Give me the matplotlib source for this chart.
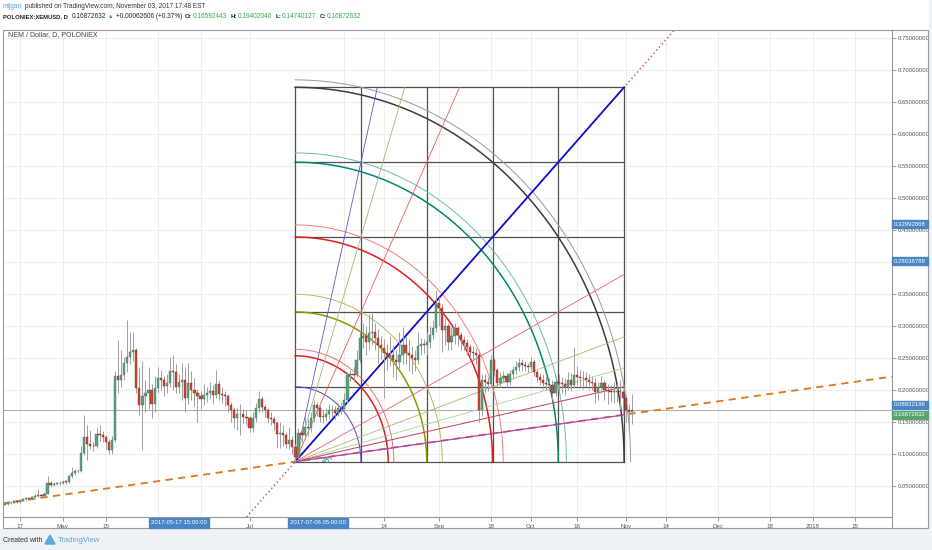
import numpy as np
import pandas as pd
import matplotlib
matplotlib.use("Agg")
import matplotlib.pyplot as plt
from matplotlib.patches import Rectangle
from matplotlib.lines import Line2D

plt.rcParams['font.family'] = ['Liberation Sans', 'DejaVu Sans']

W_PX, H_PX = 932, 550

# ---- daily candles XEM/USD, 2017-04-12 .. 2017-11-03 ----
first_open = 0.021
closes = [
    0.022, 0.023, 0.024, 0.026, 0.025, 0.027, 0.029, 0.031, 0.030, 0.033,
    0.035, 0.036, 0.034, 0.038, 0.055, 0.052, 0.053, 0.054, 0.055, 0.057,
    0.056, 0.065, 0.070, 0.073, 0.074, 0.101, 0.127, 0.116, 0.113, 0.112,
    0.131, 0.130, 0.127, 0.119, 0.106, 0.122, 0.222, 0.216, 0.223, 0.242,
    0.252, 0.260, 0.262, 0.203, 0.177, 0.190, 0.195, 0.200, 0.178, 0.203,
    0.219, 0.216, 0.206, 0.211, 0.230, 0.228, 0.205, 0.213, 0.215, 0.188,
    0.211, 0.200, 0.196, 0.190, 0.186, 0.192, 0.196, 0.199, 0.192, 0.209,
    0.194, 0.192, 0.190, 0.177, 0.169, 0.156, 0.162, 0.163, 0.158, 0.157,
    0.140, 0.156, 0.172, 0.186, 0.173, 0.169, 0.156, 0.155, 0.149, 0.131,
    0.133, 0.130, 0.116, 0.122, 0.111, 0.095, 0.133, 0.130, 0.142, 0.140,
    0.156, 0.177, 0.172, 0.158, 0.158, 0.162, 0.169, 0.168, 0.164, 0.172,
    0.171, 0.184, 0.223, 0.225, 0.223, 0.247, 0.281, 0.284, 0.275, 0.289,
    0.290, 0.282, 0.270, 0.266, 0.258, 0.250, 0.255, 0.247, 0.244, 0.255,
    0.270, 0.258, 0.255, 0.250, 0.247, 0.268, 0.272, 0.270, 0.275, 0.286,
    0.297, 0.336, 0.328, 0.294, 0.300, 0.275, 0.284, 0.297, 0.286, 0.278,
    0.273, 0.267, 0.259, 0.258, 0.255, 0.169, 0.216, 0.213, 0.210, 0.247,
    0.231, 0.211, 0.219, 0.222, 0.213, 0.225, 0.231, 0.236, 0.242, 0.239,
    0.238, 0.236, 0.244, 0.228, 0.220, 0.216, 0.211, 0.210, 0.208, 0.195,
    0.213, 0.211, 0.210, 0.205, 0.216, 0.208, 0.223, 0.221, 0.219, 0.218,
    0.216, 0.213, 0.211, 0.197, 0.204, 0.211, 0.200, 0.199, 0.197, 0.197,
    0.197, 0.197, 0.188, 0.169, 0.16592443, 0.16872632,
]
highs = [
    0.024, 0.025, 0.026, 0.028, 0.027, 0.029, 0.031, 0.033, 0.032, 0.035,
    0.038, 0.045, 0.038, 0.041, 0.066, 0.058, 0.056, 0.057, 0.058, 0.060,
    0.059, 0.068, 0.080, 0.076, 0.077, 0.112, 0.161, 0.145, 0.138, 0.119,
    0.142, 0.145, 0.136, 0.130, 0.124, 0.128, 0.230, 0.278, 0.262, 0.252,
    0.309, 0.290, 0.290, 0.265, 0.235, 0.245, 0.215, 0.236, 0.210, 0.222,
    0.236, 0.232, 0.222, 0.225, 0.252, 0.255, 0.240, 0.225, 0.242, 0.236,
    0.242, 0.230, 0.218, 0.202, 0.198, 0.210, 0.205, 0.212, 0.208, 0.232,
    0.215, 0.205, 0.198, 0.194, 0.182, 0.173, 0.172, 0.178, 0.170, 0.168,
    0.160, 0.165, 0.180, 0.198, 0.190, 0.178, 0.172, 0.165, 0.160, 0.152,
    0.150, 0.146, 0.134, 0.142, 0.128, 0.115, 0.140, 0.145, 0.162, 0.155,
    0.165, 0.185, 0.182, 0.176, 0.168, 0.172, 0.178, 0.176, 0.175, 0.180,
    0.182, 0.195, 0.228, 0.232, 0.236, 0.262, 0.292, 0.305, 0.300, 0.318,
    0.320, 0.305, 0.295, 0.285, 0.280, 0.272, 0.285, 0.270, 0.262, 0.290,
    0.298, 0.285, 0.280, 0.268, 0.262, 0.290, 0.282, 0.280, 0.290, 0.300,
    0.310, 0.356, 0.345, 0.335, 0.312, 0.305, 0.298, 0.305, 0.300, 0.290,
    0.285, 0.280, 0.272, 0.268, 0.265, 0.262, 0.225, 0.225, 0.220, 0.255,
    0.250, 0.235, 0.228, 0.230, 0.226, 0.232, 0.238, 0.245, 0.250, 0.248,
    0.245, 0.242, 0.252, 0.248, 0.232, 0.226, 0.225, 0.222, 0.218, 0.215,
    0.222, 0.225, 0.220, 0.218, 0.228, 0.226, 0.267, 0.238, 0.232, 0.230,
    0.228, 0.225, 0.222, 0.218, 0.212, 0.222, 0.215, 0.210, 0.208, 0.212,
    0.210, 0.215, 0.200, 0.192, 0.178, 0.19402040,
]
lows = [
    0.020, 0.021, 0.022, 0.023, 0.023, 0.024, 0.026, 0.028, 0.028, 0.029,
    0.031, 0.033, 0.032, 0.033, 0.037, 0.049, 0.050, 0.051, 0.052, 0.053,
    0.053, 0.055, 0.063, 0.067, 0.070, 0.072, 0.098, 0.090, 0.108, 0.105,
    0.110, 0.120, 0.118, 0.108, 0.100, 0.100, 0.118, 0.195, 0.205, 0.215,
    0.228, 0.240, 0.246, 0.195, 0.161, 0.106, 0.165, 0.170, 0.156, 0.165,
    0.195, 0.200, 0.190, 0.195, 0.205, 0.200, 0.195, 0.196, 0.185, 0.166,
    0.178, 0.185, 0.175, 0.150, 0.170, 0.176, 0.182, 0.186, 0.178, 0.188,
    0.185, 0.180, 0.175, 0.165, 0.150, 0.140, 0.138, 0.130, 0.148, 0.146,
    0.135, 0.135, 0.150, 0.165, 0.165, 0.158, 0.148, 0.146, 0.138, 0.109,
    0.109, 0.112, 0.110, 0.108, 0.100, 0.088, 0.092, 0.118, 0.124, 0.128,
    0.135, 0.150, 0.160, 0.150, 0.148, 0.152, 0.155, 0.158, 0.155, 0.160,
    0.162, 0.168, 0.180, 0.214, 0.212, 0.220, 0.242, 0.265, 0.255, 0.262,
    0.270, 0.262, 0.240, 0.248, 0.188, 0.232, 0.238, 0.220, 0.215, 0.235,
    0.240, 0.240, 0.230, 0.225, 0.230, 0.240, 0.255, 0.258, 0.255, 0.265,
    0.280, 0.290, 0.300, 0.260, 0.270, 0.262, 0.262, 0.272, 0.268, 0.262,
    0.262, 0.255, 0.250, 0.245, 0.240, 0.150, 0.160, 0.195, 0.198, 0.205,
    0.222, 0.205, 0.205, 0.212, 0.205, 0.208, 0.218, 0.225, 0.230, 0.230,
    0.230, 0.228, 0.232, 0.222, 0.212, 0.208, 0.202, 0.200, 0.198, 0.185,
    0.190, 0.198, 0.196, 0.192, 0.200, 0.198, 0.205, 0.208, 0.205, 0.202,
    0.205, 0.202, 0.200, 0.180, 0.185, 0.196, 0.185, 0.178, 0.182, 0.180,
    0.182, 0.170, 0.160, 0.150, 0.140, 0.14740127,
]
dates = pd.date_range('2017-04-12', periods=len(closes), freq='D')
base = pd.Timestamp('2017-04-17')

# time axis
tick_dates = ['2017-04-17', '2017-05-01', '2017-05-15', '2017-06-01', '2017-06-15',
              '2017-07-01', '2017-08-01', '2017-08-14', '2017-09-01', '2017-09-18',
              '2017-10-01', '2017-10-16', '2017-11-01', '2017-11-14', '2017-12-01',
              '2017-12-18', '2018-01-01', '2018-01-15']
tick_labels = ['17', 'May', '15', 'Jun', '15', 'Jul', 'Aug', '14', 'Sep', '18',
               'Oct', '16', 'Nov', '14', 'Dec', '18', '2018', '15']
price_ticks = [0.05, 0.10, 0.15, 0.20, 0.25, 0.30, 0.35, 0.40, 0.45, 0.50,
               0.55, 0.60, 0.65, 0.70, 0.75]

# gann square anchors
gann_time = ['2017-07-15 22:00', '2017-10-31 10:00']
gann_price = [0.088, 0.673]
arc_levels = [(1, 0), (1, 1), (1.5, 0), (2, 0), (2, 1), (3, 0), (3, 1),
              (4, 0), (4, 1), (5, 0), (5, 1)]
arc_colors = ['#4646c8', '#e01e1e', '#f07070', '#8c9a00', '#b4bc58', '#e01e1e',
              '#f08080', '#00896b', '#6cc0a8', '#3c3c3c', '#9a9a9a']
arc_widths = [0.7, 1.1, 0.7, 1.1, 0.7, 1.1, 0.7, 1.1, 0.7, 1.1, 0.7]
fan_ratios = [(1, 4), (1, 3), (1, 2), (1, 1), (2, 1), (3, 1), (4, 1), (5, 1), (8, 1)]
fan_colors = ['#5a5ad0', '#a8b478', '#ee5a5a', '#1010d0', '#ee6070', '#a8b870',
              '#a8d098', '#c83c5a', '#b040c0']
fan_widths = [0.6, 0.6, 0.6, 1.3, 0.6, 0.6, 0.6, 0.7, 0.9]

# trend line anchors
trend_time = ['2017-04-11 10:00', '2018-01-26 23:00']
trend_price = [0.023, 0.221]
last_price = 0.16872632


def dnum(t):
    return (pd.Timestamp(t) - base) / pd.Timedelta(days=1)


def fx(px):
    return px / W_PX


def fy(py):
    return 1 - py / H_PX


fig = plt.figure(figsize=(W_PX / 100, H_PX / 100), dpi=100, facecolor='white')
ax = fig.add_axes([fx(3), fy(517), (892 - 3) / W_PX, (517 - 30) / H_PX])
ax.set_facecolor('white')
ax.set_xlim((3 - 20) / 3.06, (892 - 20) / 3.06)
ax.set_ylim((518 - 517) / 640, (518 - 30) / 640)

# grid
for t in tick_dates:
    ax.axvline(dnum(t), color='#eeeeee', lw=0.8, zorder=0)
for p in price_ticks:
    ax.axhline(p, color='#eeeeee', lw=0.8, zorder=0)

# candles
days = np.array([(d - base).days for d in dates], dtype=float)
c = np.array(closes)
o = np.array([first_open] + closes[:-1])
up = c >= o
bottoms = np.minimum(o, c)
heights = np.maximum(np.abs(c - o), 0.0012)
ax.vlines(days, lows, highs, color='#a0a0a0', lw=0.7, zorder=4)
ax.bar(days[up], heights[up], bottom=bottoms[up], width=0.72, color='#5e9e7e',
       edgecolor='#3f7a5c', linewidth=0.3, zorder=5)
ax.bar(days[~up], heights[~up], bottom=bottoms[~up], width=0.72, color='#c8483a',
       edgecolor='#8a2a20', linewidth=0.3, zorder=5)

# last price line
ax.axhline(last_price, color='#b0b0b0', lw=0.8, zorder=1)

# dashed trend line
ax.plot([dnum(t) for t in trend_time], trend_price, color='#d9771e', lw=1.3,
        dashes=(4, 3), zorder=3)

# gann square
x0, x1 = dnum(gann_time[0]), dnum(gann_time[1])
y0, y1 = gann_price
gw, gh = x1 - x0, y1 - y0
ax.axline((x0, y0), (x1, y1), color='#e04040', lw=1.0, ls=(0, (1, 2)), zorder=2)
for k in range(6):
    ax.plot([x0 + k * gw / 5] * 2, [y0, y1], color='#505050', lw=0.9, zorder=3)
    ax.plot([x0, x1], [y0 + k * gh / 5] * 2, color='#505050', lw=0.9, zorder=3)
th = np.linspace(0, np.pi / 2, 200)
for (a, b), col, lw in zip(arc_levels, arc_colors, arc_widths):
    r = np.hypot(a, b) / 5
    ax.plot(x0 + r * gw * np.cos(th), y0 + r * gh * np.sin(th), color=col, lw=lw, zorder=3)
for (t_, p_), col, lw in zip(fan_ratios, fan_colors, fan_widths):
    if p_ >= t_:
        ex, ey = t_ / p_, 1.0
    else:
        ex, ey = 1.0, p_ / t_
    ax.plot([x0, x0 + ex * gw], [y0, y0 + ey * gh], color=col, lw=lw, zorder=3)
ax.text(x0 + 0.1 * gw, y0, '45°', color='#1f8a6a', fontsize=5.5, ha='center',
        va='center', zorder=6)

# axes styling
for s in ['top', 'left']:
    ax.spines[s].set_visible(False)
ax.spines['right'].set_color('#9a9a9a')
ax.spines['bottom'].set_color('#9a9a9a')
ax.yaxis.tick_right()
ax.set_yticks(price_ticks)
# the 0.40 label sits under the 0.28038788 marker in the screenshot
ax.set_yticklabels(['' if p == 0.40 else '%.8f' % p for p in price_ticks])
ax.set_xticks([dnum(t) for t in tick_dates])
ax.set_xticklabels(tick_labels)
ax.tick_params(axis='y', length=3, width=0.6, color='#888888', labelsize=4.3,
               labelcolor='#555555', pad=1.5)
ax.tick_params(axis='x', length=3, width=0.6, color='#888888', labelsize=4.5,
               labelcolor='#555555', pad=2)

# figure-level frame and strips
fig.patches.append(Rectangle((0, 0), 1, fy(529), transform=fig.transFigure,
                             color='#eef2f6', zorder=0))
fig.patches.append(Rectangle((fx(929), 0), 1 - fx(929), 1, transform=fig.transFigure,
                             color='#eef2f6', zorder=0))
fig.patches.append(Rectangle((fx(3), fy(528)), fx(928) - fx(3), fy(30) - fy(528),
                             transform=fig.transFigure, fill=False,
                             edgecolor='#9a9a9a', lw=0.8, zorder=1))
fig.lines.append(Line2D([fx(892), fx(892)], [fy(517), fy(528)],
                        transform=fig.transFigure, color='#9a9a9a', lw=0.8))

# header, pieces chained left to right
renderer = fig.canvas.get_renderer()


def chain(py, pieces, x=3):
    for txt, col, wt, size, gap in pieces:
        t = fig.text(fx(x), fy(py), txt, color=col, fontsize=size, fontweight=wt,
                     va='center')
        x += t.get_window_extent(renderer).width + gap


green = '#2fa84f'
chain(7, [('mijgan', '#4fa3e0', 'normal', 4.7, 2.5),
          ('published on TradingView.com, November 03, 2017 17:48 EST', '#333333',
           'normal', 4.7, 0)])
chain(17, [('POLONIEX:XEMUSD, D', '#222222', 'bold', 4.2, 4),
           ('0.16872632', '#222222', 'normal', 4.7, 2),
           ('▲', green, 'normal', 4.0, 2),
           ('+0.00062606 (+0.37%)', '#222222', 'normal', 4.7, 3),
           ('O:', '#222222', 'bold', 4.5, 1),
           ('0.16592443', green, 'normal', 4.7, 3),
           ('H:', '#222222', 'bold', 4.5, 1),
           ('0.19402040', green, 'normal', 4.7, 3),
           ('L:', '#222222', 'bold', 4.5, 1),
           ('0.14740127', green, 'normal', 4.7, 3),
           ('C:', '#222222', 'bold', 4.5, 1),
           ('0.16872632', green, 'normal', 4.7, 0)])
fig.text(fx(8), fy(35), 'NEM / Dollar, D, POLONIEX', color='#444444', fontsize=5,
         va='center')

# price scale labels
blue = '#4a86c5'
for py, txt, col in [(224, '0.32992868', blue), (261, '0.28038788', blue),
                     (405, '0.08832196', blue), (415, '0.16872632', '#5aa36e')]:
    fig.text(fx(894), fy(py), txt, color='white', fontsize=4.3, va='center', zorder=10,
             bbox=dict(boxstyle='square,pad=0.3', fc=col, ec=col))

# time scale labels
for px, txt in [(179, '2017-05-17 15:00:00'), (318, '2017-07-06 05:00:00')]:
    fig.text(fx(px), fy(523), txt, color='white', fontsize=4.3, ha='center',
             va='center', zorder=10,
             bbox=dict(boxstyle='square,pad=0.4', fc=blue, ec=blue))

# footer
fig.text(fx(3), fy(540), 'Created with', color='#333333', fontsize=5, va='center')
fig.patches.append(plt.Polygon([[fx(45), fy(544)], [fx(50), fy(535)], [fx(55), fy(544)]],
                               closed=True, transform=fig.transFigure, fc='#5aa8d8',
                               ec='#5aa8d8'))
fig.text(fx(58), fy(540), 'TradingView', color='#5aa8d8', fontsize=5.5, va='center')

fig.savefig('out.png', dpi=100, facecolor=fig.get_facecolor())
